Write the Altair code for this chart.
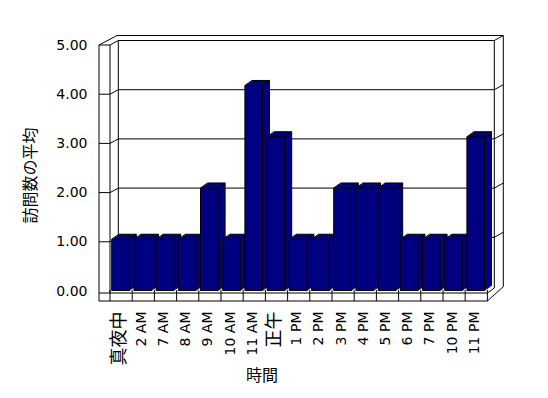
import json
import altair as alt
import pandas as pd

# ---------------- data ----------------
categories = ["真夜中", "2 AM", "7 AM", "8 AM", "9 AM", "10 AM", "11 AM", "正午",
              "1 PM", "2 PM", "3 PM", "4 PM", "5 PM", "6 PM", "7 PM", "10 PM", "11 PM"]
visits = [1, 1, 1, 1, 2, 1, 4, 3, 1, 1, 2, 2, 2, 1, 1, 1, 3]
y_ticks = [0, 1, 2, 3, 4, 5]

# ---------------- geometry / style (plot-area pixels) ----------------
NAVY = "#000080"
W, H = 405, 266
PAD_L, PAD_T = 91, 27
PAD = {"left": PAD_L, "top": PAD_T, "right": 548 - 16 - PAD_L - W,
       "bottom": 398 - 16 - PAD_T - H}

n = len(categories)
X_RANGE = [11, 388.4]            # slot band of the floor
Y_FRONT_RANGE = [256, 10]        # front axis scale (0 -> 5)
Y_BAR_RANGE = [255.5, -0.8]      # bar faces scale (0 -> 5)
BACK_DY = -4.5                   # wall depth shift
DX, DY = 7, 5                    # bar depth
BAR_L, BAR_R = 1.7 / 22.2, 19.3 / 22.2

WALL_L_OUT, WALL_L_IN, BACK_L, BACK_R, WALL_R_OUT = 0, 11, 19.3, 395.3, 404.3
TOP_OUT, FRONT_TOP, BACK_TOP = 0.5, 10, 5.5
FLOOR_TOP, FLOOR_BOT, BACK_BOT, R_OUT_BOT = 258, 266, 253, 251.7
FLOOR_R = X_RANGE[1]
DIV_TOP = 255

LABEL_FONT = "DejaVu Sans"
CJK_FONT = "Noto Sans CJK JP"
LABEL_SIZE = 14
CJK_LABEL_SIZE = 18

xs = alt.Scale(domain=[0, n], range=X_RANGE, nice=False, zero=False)
ys_front = alt.Scale(domain=[0, 5], range=Y_FRONT_RANGE, nice=False, zero=False)
ys_bar = alt.Scale(domain=[0, 5], range=Y_BAR_RANGE, nice=False, zero=False)

# ---------------- tables ----------------
bars = pd.DataFrame({"cat": categories, "val": visits, "i": list(range(n))})
bars["x0"] = bars["i"] + BAR_L
bars["x1"] = bars["i"] + BAR_R
bars["zero"] = 0
nxt = visits[1:] + [0]
bars["edge_lo"] = [min(a, b) for a, b in zip(visits, nxt)]

grid = pd.DataFrame({"v": y_ticks[1:]})
divs = pd.DataFrame({"k": list(range(n + 1))})

segments = [
    (WALL_L_OUT, FRONT_TOP, WALL_L_OUT, FLOOR_BOT),
    (WALL_L_IN, FRONT_TOP, WALL_L_IN, FLOOR_TOP),
    (BACK_L, BACK_TOP, BACK_L, BACK_BOT),
    (BACK_R, BACK_TOP, BACK_R, BACK_BOT),
    (WALL_R_OUT, TOP_OUT, WALL_R_OUT, R_OUT_BOT),
    (18, TOP_OUT, WALL_R_OUT, TOP_OUT),
    (WALL_L_OUT, FRONT_TOP, 18, TOP_OUT),
    (WALL_L_OUT, FLOOR_TOP, FLOOR_R, FLOOR_TOP),
    (WALL_L_OUT, FLOOR_BOT, FLOOR_R, FLOOR_BOT),
    (FLOOR_R, FLOOR_BOT, WALL_R_OUT, R_OUT_BOT),
    (FLOOR_R, FLOOR_TOP, BACK_R, BACK_BOT),
]
seg_df = pd.DataFrame(segments, columns=["x", "y", "x2", "y2"])

# ---------------- layers ----------------
line = dict(color="black", strokeWidth=1)

frame = alt.Chart(seg_df).mark_rule(**line).encode(
    x=alt.X("x:Q", scale=None, axis=None), y=alt.Y("y:Q", scale=None, axis=None),
    x2="x2:Q", y2="y2:Q")

y_axis = alt.Axis(values=y_ticks, format=".2f", orient="left", ticks=False, domain=False,
                  grid=False, labelPadding=12, labelFont=LABEL_FONT, labelFontSize=LABEL_SIZE,
                  labelColor="black", labelFlush=False,
                  title="訪問数の平均", titleFont=CJK_FONT, titleFontSize=16,
                  titleFontWeight="normal", titleColor="black", titleX=-69, titleY=140,
                  titleAngle=270, titleAlign="center", titleBaseline="middle")

g_front = alt.Chart(grid).mark_rule(**line).encode(
    x=alt.value(WALL_L_OUT), x2=alt.value(WALL_L_IN),
    y=alt.Y("v:Q", scale=ys_front, axis=y_axis))
g_diag = alt.Chart(grid).mark_rule(**line, y2Offset=BACK_DY).encode(
    x=alt.value(WALL_L_IN), x2=alt.value(BACK_L),
    y=alt.Y("v:Q", scale=ys_front, axis=None), y2="v:Q")
g_back = alt.Chart(grid).mark_rule(**line, yOffset=BACK_DY).encode(
    x=alt.value(BACK_L), x2=alt.value(BACK_R),
    y=alt.Y("v:Q", scale=ys_front, axis=None))
g_right = alt.Chart(grid).mark_rule(**line, yOffset=BACK_DY, y2Offset=BACK_DY - 5).encode(
    x=alt.value(BACK_R), x2=alt.value(WALL_R_OUT),
    y=alt.Y("v:Q", scale=ys_front, axis=None), y2="v:Q")

cjk_idx = [i for i, c in enumerate(categories) if any(ord(ch) > 127 for ch in c)]
cjk_test = " || ".join(f"datum.value == {i + 0.5}" for i in cjk_idx)
latin_test = f"!({cjk_test})"
x_axis = alt.Axis(values=[i + 0.5 for i in range(n)], orient="bottom",
                  labelExpr=f"{json.dumps(categories, ensure_ascii=False)}[floor(datum.value)]",
                  labelAngle=270, labelAlign="right", labelBaseline="middle",
                  labelPadding=10, labelOffset=-2, ticks=False, domain=False, grid=False,
                  labelColor="black", labelFlush=False,
                  labelOverlap=False, labelBound=False,
                  labelFont={"condition": [{"test": cjk_test, "value": CJK_FONT},
                                           {"test": latin_test, "value": LABEL_FONT}],
                             "value": LABEL_FONT},
                  labelFontSize={"condition": [{"test": cjk_test, "value": CJK_LABEL_SIZE},
                                               {"test": latin_test, "value": LABEL_SIZE}],
                                 "value": LABEL_SIZE},
                  title="時間", titleFont=CJK_FONT, titleFontSize=16, titleFontWeight="normal",
                  titleColor="black", titleX=162.5, titleY=74, titleAlign="center",
                  titleBaseline="middle")

dividers = alt.Chart(divs).mark_rule(**line).encode(
    x=alt.X("k:Q", scale=xs, axis=x_axis), y=alt.value(DIV_TOP), y2=alt.value(FLOOR_BOT))

base = alt.Chart(bars)
enc = dict(x=alt.X("x0:Q", scale=xs, axis=None), x2="x1:Q",
           y=alt.Y("val:Q", scale=ys_bar, axis=None), y2="zero:Q")

STEPS = 7
extrusions = [
    base.mark_rect(color=NAVY, strokeWidth=0,
                   xOffset=DX * k / STEPS, x2Offset=DX * k / STEPS,
                   yOffset=-DY * k / STEPS, y2Offset=-DY * k / STEPS).encode(**enc)
    for k in range(1, STEPS + 1)
]

back_top = base.mark_rule(**line, xOffset=DX, x2Offset=DX, yOffset=-DY, y2Offset=-DY).encode(
    x=alt.X("x0:Q", scale=xs, axis=None), x2="x1:Q",
    y=alt.Y("val:Q", scale=ys_bar, axis=None), y2="val:Q")
back_right = base.transform_filter(f"datum.i < {n - 1}").mark_rule(
    **line, xOffset=DX, x2Offset=DX, yOffset=-DY, y2Offset=-1.6).encode(
    x=alt.X("x1:Q", scale=xs, axis=None), x2="x1:Q",
    y=alt.Y("val:Q", scale=ys_bar, axis=None), y2="edge_lo:Q")
back_right_last = base.transform_filter(f"datum.i == {n - 1}").mark_rule(
    **line, xOffset=DX, x2Offset=DX, yOffset=-DY, y2Offset=-DY).encode(
    x=alt.X("x1:Q", scale=xs, axis=None), x2="x1:Q",
    y=alt.Y("val:Q", scale=ys_bar, axis=None), y2="zero:Q")
diag_tl = base.mark_rule(**line, x2Offset=DX, y2Offset=-DY).encode(
    x=alt.X("x0:Q", scale=xs, axis=None), x2="x0:Q",
    y=alt.Y("val:Q", scale=ys_bar, axis=None), y2="val:Q")
diag_tr = base.mark_rule(**line, x2Offset=DX, y2Offset=-DY).encode(
    x=alt.X("x1:Q", scale=xs, axis=None), x2="x1:Q",
    y=alt.Y("val:Q", scale=ys_bar, axis=None), y2="val:Q")
diag_br = base.mark_rule(**line, x2Offset=DX, y2Offset=-DY).encode(
    x=alt.X("x1:Q", scale=xs, axis=None), x2="x1:Q",
    y=alt.Y("zero:Q", scale=ys_bar, axis=None), y2="zero:Q")

front = base.mark_rect(color=NAVY, stroke="black", strokeWidth=1).encode(**enc)

chart = alt.layer(
    frame, g_front, g_diag, g_back, g_right, dividers,
    *extrusions, back_top, back_right, back_right_last, diag_tl, diag_tr, diag_br, front
).resolve_scale(x="independent", y="independent").properties(
    width=W, height=H, padding=PAD, autosize=alt.AutoSizeParams(type="none"),
    background="white"
).configure_view(stroke=None).configure_axis(
    labelFont=LABEL_FONT, labelFontSize=LABEL_SIZE, labelColor="black"
)

chart.save("out.html", embed_options={"renderer": "svg", "actions": False})
